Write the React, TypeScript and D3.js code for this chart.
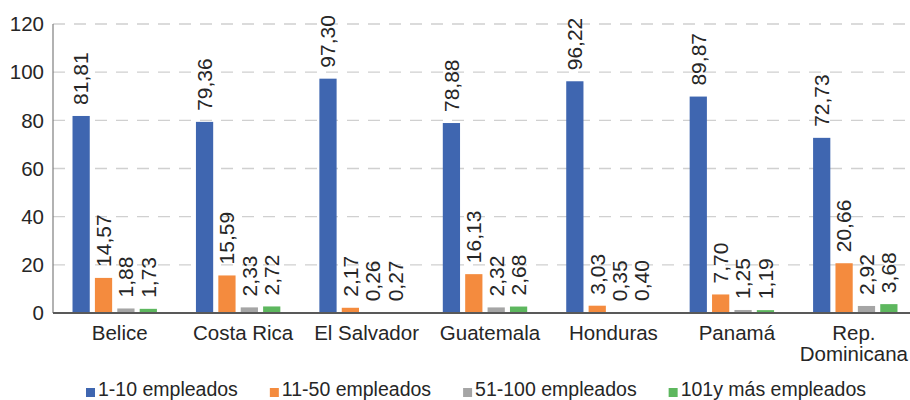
import { useRef, useEffect } from "react";
import * as d3 from "d3";

const categories = ["Belice", "Costa Rica", "El Salvador", "Guatemala", "Honduras", "Panamá", "Rep.\nDominicana"];
const seriesNames = ["1-10 empleados", "11-50 empleados", "51-100 empleados", "101y más empleados"];
const seriesColors = ["#3F66B0", "#F48B3E", "#A5A5A5", "#5DB75E"];
const emp1to10 = [81.81, 79.36, 97.3, 78.88, 96.22, 89.87, 72.73];
const emp11to50 = [14.57, 15.59, 2.17, 16.13, 3.03, 7.7, 20.66];
const emp51to100 = [1.88, 2.33, 0.26, 2.32, 0.35, 1.25, 2.92];
const emp101plus = [1.73, 2.72, 0.27, 2.68, 0.4, 1.19, 3.68];
const yTicks = [0, 20, 40, 60, 80, 100, 120];

export default function App() {
  const svgRef = useRef<SVGSVGElement>(null);

  useEffect(() => {
    const width = 910;
    const height = 400;
    const M = { top: 24, bottom: 87, left: 53, right: -7 };
    const font = "Arial, 'Liberation Sans', sans-serif";
    const textColor = "#262626";

    const svg = d3.select(svgRef.current)
      .attr("width", width)
      .attr("height", height);
    svg.selectAll("*").remove();

    const values = [emp1to10, emp11to50, emp51to100, emp101plus];

    const x0 = d3.scaleBand<number>()
      .domain(d3.range(categories.length))
      .range([M.left, width - M.right]);

    const x1 = d3.scaleBand<number>()
      .domain(d3.range(seriesNames.length))
      .range([-42.2, 42.2])
      .paddingInner(0.23);

    const y = d3.scaleLinear()
      .domain([0, 120])
      .range([height - M.bottom, M.top]);

    // Gridlines
    svg.append("g")
      .selectAll("line")
      .data(yTicks.filter(t => t > 0))
      .join("line")
      .attr("x1", M.left)
      .attr("x2", width)
      .attr("y1", d => y(d))
      .attr("y2", d => y(d))
      .attr("stroke", "#d0d0d0")
      .attr("stroke-width", 1.3)
      .attr("stroke-dasharray", "12,9");

    // Y tick labels
    svg.append("g")
      .selectAll("text")
      .data(yTicks)
      .join("text")
      .attr("x", 44)
      .attr("y", d => y(d))
      .attr("dy", "0.35em")
      .attr("text-anchor", "end")
      .style("font-family", font)
      .style("font-size", "20.5px")
      .attr("fill", textColor)
      .text(d => d);

    // Bars + value labels
    const groups = svg.append("g")
      .selectAll("g")
      .data(categories.map((c, i) => i))
      .join("g")
      .attr("transform", i => `translate(${x0(i)! + x0.bandwidth() / 2},0)`);

    const fmt = (v: number) => v.toFixed(2).replace(".", ",");

    groups.selectAll("rect")
      .data(i => values.map((s, k) => ({ k, v: s[i] })))
      .join("rect")
      .attr("x", d => x1(d.k)!)
      .attr("width", x1.bandwidth())
      .attr("y", d => y(d.v))
      .attr("height", d => y(0) - y(d.v))
      .attr("fill", d => seriesColors[d.k]);

    groups.selectAll("text")
      .data(i => values.map((s, k) => ({ k, v: s[i] })))
      .join("text")
      .attr("transform", d => `translate(${x1(d.k)! + x1.bandwidth() / 2},${y(d.v) - 11}) rotate(-90)`)
      .attr("dy", "0.35em")
      .attr("text-anchor", "start")
      .style("font-family", font)
      .style("font-size", "21px")
      .attr("fill", textColor)
      .text(d => fmt(d.v));

    // Axes lines
    svg.append("line")
      .attr("x1", M.left).attr("x2", M.left)
      .attr("y1", y(120)).attr("y2", y(0))
      .attr("stroke", "#7f7f7f").attr("stroke-width", 1.2);
    svg.append("line")
      .attr("x1", M.left).attr("x2", width)
      .attr("y1", y(0)).attr("y2", y(0))
      .attr("stroke", "#595959").attr("stroke-width", 2);

    // Category labels (kept inside the right edge)
    const catLabels = svg.append("g")
      .selectAll("text")
      .data(categories)
      .join("text")
      .attr("y", 340)
      .attr("text-anchor", "middle")
      .style("font-family", font)
      .style("font-size", "20.5px")
      .attr("fill", textColor);

    catLabels.each(function (d, i) {
      const text = d3.select(this);
      const lines = d.split("\n");
      const tspans = text.selectAll("tspan")
        .data(lines)
        .join("tspan")
        .attr("dy", (l, j) => (j === 0 ? 0 : 21))
        .text(l => l);
      let maxW = 0;
      tspans.each(function () {
        maxW = Math.max(maxW, (this as SVGTSpanElement).getComputedTextLength());
      });
      const cx = Math.min(x0(i)! + x0.bandwidth() / 2 + 5, width - 2 - maxW / 2);
      tspans.attr("x", cx);
    });

    // Legend
    const legend = svg.append("g");
    let lx = 86;
    seriesNames.forEach((name, k) => {
      legend.append("rect")
        .attr("x", lx).attr("y", 388)
        .attr("width", 9).attr("height", 9)
        .attr("fill", seriesColors[k]);
      const t = legend.append("text")
        .attr("x", lx + 12).attr("y", 395.5)
        .style("font-family", font)
        .style("font-size", "19.5px")
        .attr("fill", textColor)
        .text(name);
      lx += 12 + (t.node() as SVGTextElement).getComputedTextLength() + 32;
    });
  }, []);

  return (
    <svg ref={svgRef} style={{ position: "absolute", left: 0, top: 0, display: "block", background: "#fff" }}></svg>
  );
}
